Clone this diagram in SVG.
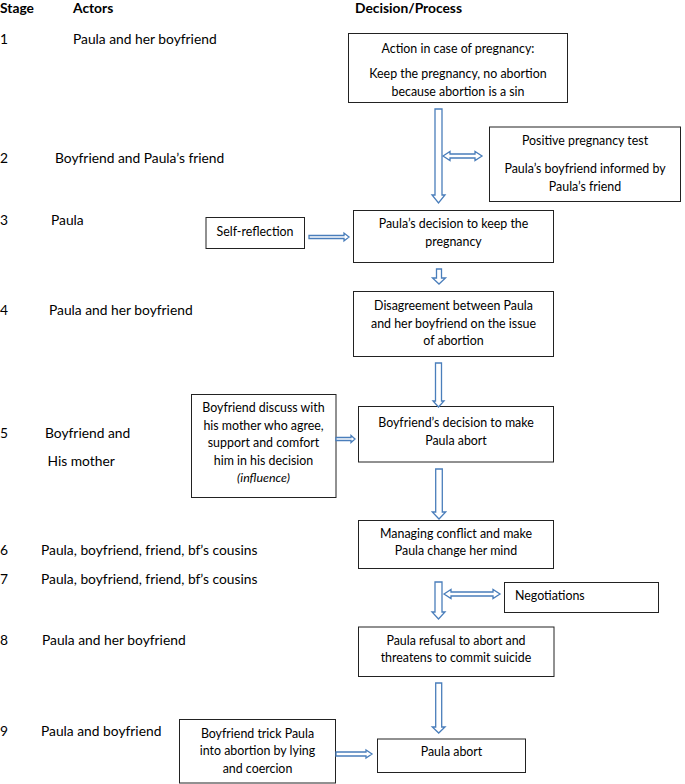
<svg xmlns="http://www.w3.org/2000/svg" width="685" height="784" viewBox="0 0 685 784">
<style>
text{font-family:Lato,"Liberation Sans",sans-serif;font-size:12.4px;fill:#000}
.s{font-size:13.8px}
.h{font-weight:bold;font-size:13.8px}
.c{text-anchor:middle}
.box{fill:#fff;stroke:#222;stroke-width:1}
.arr{fill:#fff;stroke:#4a7ebb;stroke-width:1.3;stroke-linejoin:miter}
</style>
<rect width="685" height="784" fill="#fff"/>
<g id="header">
<text class="h" x="0" y="13">Stage</text>
<text class="h" x="73" y="13">Actors</text>
<text class="h" x="355" y="13">Decision/Process</text>
</g>
<g id="stages" class="s">
<text class="s" x="0" y="44">1</text><text class="s" x="73" y="44">Paula and her boyfriend</text>
<text class="s" x="0" y="163">2</text><text class="s" x="55" y="163">Boyfriend and Paula’s friend</text>
<text class="s" x="0" y="224.5">3</text><text class="s" x="51" y="224.5">Paula</text>
<text class="s" x="0" y="315">4</text><text class="s" x="49" y="315">Paula and her boyfriend</text>
<text class="s" x="0" y="437.5">5</text><text class="s" x="45" y="437.5">Boyfriend and</text>
<text class="s" x="47.5" y="466">His mother</text>
<text class="s" x="0" y="555">6</text><text class="s" x="41" y="555">Paula, boyfriend, friend, bf’s cousins</text>
<text class="s" x="0" y="584">7</text><text class="s" x="41" y="584">Paula, boyfriend, friend, bf’s cousins</text>
<text class="s" x="0" y="645">8</text><text class="s" x="42" y="645">Paula and her boyfriend</text>
<text class="s" x="0" y="735.5">9</text><text class="s" x="41" y="735.5">Paula and boyfriend</text>
</g>
<g id="n1">
<rect class="box" x="348.5" y="33.5" width="219" height="69"/>
<text class="c" x="458" y="52.5">Action in case of pregnancy:</text>
<text class="c" x="458" y="78">Keep the pregnancy, no abortion</text>
<text class="c" x="458" y="96">because abortion is a sin</text>
</g>
<g id="n2">
<rect class="box" x="489.5" y="127" width="191" height="74.5"/>
<text class="c" x="585" y="145">Positive pregnancy test</text>
<text class="c" x="585" y="173">Paula’s boyfriend informed by</text>
<text class="c" x="585" y="191">Paula’s friend</text>
</g>
<g id="n_self">
<rect class="box" x="206" y="217.5" width="98.5" height="31"/>
<text class="c" x="255" y="235.5">Self-reflection</text>
</g>
<g id="n3">
<rect class="box" x="353.5" y="210.5" width="200" height="52"/>
<text class="c" x="453.5" y="228">Paula’s decision to keep the</text>
<text class="c" x="453.5" y="246">pregnancy</text>
</g>
<g id="n4">
<rect class="box" x="353.5" y="291.5" width="200" height="65"/>
<text class="c" x="453.5" y="310">Disagreement between Paula</text>
<text class="c" x="453.5" y="327.5">and her boyfriend on the issue</text>
<text class="c" x="453.5" y="345">of abortion</text>
</g>
<g id="n_mother">
<rect class="box" x="191.5" y="394.5" width="144.5" height="103"/>
<text class="c" x="263.5" y="412">Boyfriend discuss with</text>
<text class="c" x="263.5" y="430">his mother who agree,</text>
<text class="c" x="263.5" y="447">support and comfort</text>
<text class="c" x="263.5" y="465">him in his decision</text>
<text class="c" x="263.5" y="482" font-style="italic">(influence)</text>
</g>
<g id="n5">
<rect class="box" x="358.5" y="406.5" width="195" height="55.5"/>
<text class="c" x="456" y="427">Boyfriend’s decision to make</text>
<text class="c" x="456" y="445">Paula abort</text>
</g>
<g id="n6">
<rect class="box" x="358.5" y="520.5" width="195" height="48"/>
<text class="c" x="456" y="538">Managing conflict and make</text>
<text class="c" x="456" y="555">Paula change her mind</text>
</g>
<g id="n_neg">
<rect class="box" x="504.5" y="582.5" width="154" height="30"/>
<text x="515" y="600">Negotiations</text>
</g>
<g id="n8">
<rect class="box" x="358.5" y="627" width="195.5" height="49.5"/>
<text class="c" x="456" y="645">Paula refusal to abort and</text>
<text class="c" x="456" y="662">threatens to commit suicide</text>
</g>
<g id="n_trick">
<rect class="box" x="179.5" y="719.5" width="156" height="63.5"/>
<text class="c" x="257.5" y="737.5">Boyfriend trick Paula</text>
<text class="c" x="257.5" y="755">into abortion by lying</text>
<text class="c" x="257.5" y="772.5">and coercion</text>
</g>
<g id="n9">
<rect class="box" x="377.5" y="739" width="148" height="33.5"/>
<text class="c" x="451.5" y="756">Paula abort</text>
</g>
<g id="connectors">
<path class="arr" d="M435,109 H442 V195 H445 L438.5,203 L432,195 H435 Z"/>
<path class="arr" d="M443,156 L450,151.5 V154 H475 V151.5 L482,156 L475,160.5 V158 H450 V160.5 Z"/>
<path class="arr" d="M309,235.5 H344 V233 L349,237 L344,241 V238.5 H309 Z"/>
<path class="arr" d="M436.5,269 H441.5 V278 H445.5 L439,284 L432.5,278 H436.5 Z"/>
<path class="arr" d="M435.5,363 H441.5 V401 H444 L438.5,407 L433,401 H435.5 Z"/>
<path class="arr" d="M336,437.5 H351 V435.5 L355,439 L351,442.5 V440.5 H336 Z"/>
<path class="arr" d="M435.7,469 H442.3 V512 H445.7 L439,519 L432.3,512 H435.7 Z"/>
<path class="arr" d="M435,582 H442 V612 H445 L438.5,619 L432,612 H435 Z"/>
<path class="arr" d="M444,594 L451,589.5 V592 H493 V589.5 L500,594 L493,598.5 V596 H451 V598.5 Z"/>
<path class="arr" d="M435.7,683 H441.7 V727 H445 L438.7,733 L432.3,727 H435.7 Z"/>
<path class="arr" d="M336,752 H366 V750 L372,754 L366,758 V756 H336 Z"/>
</g>
</svg>
